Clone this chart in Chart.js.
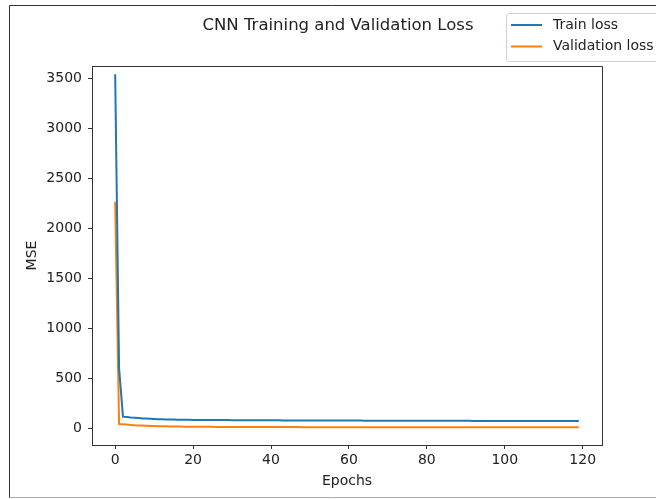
<!DOCTYPE html>
<html>
<head>
<meta charset="utf-8">
<script src="https://cdn.jsdelivr.net/npm/chart.js@4.4.1/dist/chart.umd.min.js"></script>
<style>
  html, body { margin: 0; padding: 0; background: #fff; }
  #wrap { width: 656px; height: 499px; position: relative; }
</style>
</head>
<body>
<div id="wrap"><canvas id="chart" width="656" height="499"></canvas></div>
<script>
const TITLE = "CNN Training and Validation Loss";
const SERIES_NAMES = ["Train loss", "Validation loss"];
const X_TICKS = [0, 20, 40, 60, 80, 100, 120];
const Y_TICKS = [0, 500, 1000, 1500, 2000, 2500, 3000, 3500];

const trainLoss = [
   3540, 600, 116, 112, 108, 105, 102, 99, 97, 95,
   93, 91, 90, 89, 88, 87, 86, 85.5, 85, 84.5,
   84, 83.8, 83.5, 83.2, 83, 82.8, 82.5, 82.3, 82, 81.8,
   81.6, 81.4, 81.2, 81, 80.8, 80.6, 80.4, 80.2, 80, 79.8,
   79.7, 79.5, 79.4, 79.2, 79.1, 79, 78.8, 78.7, 78.6, 78.4,
   78.3, 78.2, 78, 77.9, 77.8, 77.7, 77.5, 77.4, 77.3, 77.2,
   77.1, 77, 76.9, 76.8, 76.6, 76.5, 76.4, 76.3, 76.2, 76.1,
   76, 75.9, 75.8, 75.7, 75.6, 75.5, 75.4, 75.3, 75.3, 75.2,
   75.1, 75, 74.9, 74.8, 74.8, 74.7, 74.6, 74.5, 74.5, 74.4,
   74.3, 74.3, 74.2, 74.1, 74.1, 74, 73.9, 73.9, 73.8, 73.8,
   73.7, 73.6, 73.6, 73.5, 73.5, 73.4, 73.4, 73.3, 73.3, 73.2,
   73.2, 73.1, 73.1, 73, 73, 72.9, 72.9, 72.8, 72.8, 72.7,
];

const valLoss = [
   2266, 43, 40, 37, 34, 31, 29, 27, 25.5, 24,
   22.5, 21.5, 20.5, 19.5, 18.8, 18.2, 17.6, 17, 16.5, 16,
   15.6, 15.3, 15, 14.7, 14.5, 14.3, 14.1, 13.9, 13.7, 13.5,
   13.4, 13.2, 13.1, 13, 12.9, 12.8, 12.7, 12.6, 12.5, 12.4,
   12.3, 12.2, 12.2, 12.1, 12, 11.9, 11.9, 11.8, 11.7, 11.7,
   11.6, 11.6, 11.5, 11.4, 11.4, 11.3, 11.3, 11.2, 11.2, 11.1,
   11.1, 11, 11, 10.9, 10.9, 10.9, 10.8, 10.8, 10.7, 10.7,
   10.7, 10.6, 10.6, 10.6, 10.5, 10.5, 10.5, 10.4, 10.4, 10.4,
   10.3, 10.3, 10.3, 10.3, 10.2, 10.2, 10.2, 10.1, 10.1, 10.1,
   10.1, 10, 10, 10, 10, 9.9, 9.9, 9.9, 9.9, 9.8,
   9.8, 9.8, 9.8, 9.8, 9.7, 9.7, 9.7, 9.7, 9.7, 9.6,
   9.6, 9.6, 9.6, 9.6, 9.5, 9.5, 9.5, 9.5, 9.5, 9.5,
];

const epochs = trainLoss.map((_, i) => i);
const COLORS = ["#1f77b4", "#ff7f0e"];
const FONT = "'DejaVu Sans', sans-serif";

// frame, title, axis titles and matplotlib-style legend
const decor = {
   id: "decor",
   beforeDraw(chart) {
      const ctx = chart.ctx;
      ctx.save();
      ctx.fillStyle = "#fff";
      ctx.fillRect(0, 0, chart.width, chart.height);
      ctx.strokeStyle = "#333";
      ctx.lineWidth = 1;
      ctx.beginPath();
      ctx.moveTo(9.5, 498);
      ctx.lineTo(9.5, 5.5);
      ctx.lineTo(chart.width, 5.5);
      ctx.stroke();
      ctx.strokeStyle = "#aaa";
      ctx.beginPath();
      ctx.moveTo(9.5, 497.5);
      ctx.lineTo(chart.width, 497.5);
      ctx.stroke();
      ctx.restore();
   },
   afterDraw(chart) {
      const ctx = chart.ctx;
      const a = chart.chartArea;
      ctx.save();
      // top and right spines
      ctx.strokeStyle = "#333";
      ctx.lineWidth = 1;
      ctx.beginPath();
      ctx.moveTo(a.left, a.top + 0.5);
      ctx.lineTo(a.right + 0.5, a.top + 0.5);
      ctx.lineTo(a.right + 0.5, a.bottom);
      ctx.stroke();

      ctx.fillStyle = "#222";
      ctx.textAlign = "center";
      ctx.textBaseline = "middle";
      ctx.font = `16.5px ${FONT}`;
      ctx.fillText(TITLE, 338, 26);

      ctx.font = `14px ${FONT}`;
      ctx.fillText("Epochs", (a.left + a.right) / 2, 481);
      ctx.save();
      ctx.translate(32, (a.top + a.bottom) / 2);
      ctx.rotate(-Math.PI / 2);
      ctx.fillText("MSE", 0, 0);
      ctx.restore();

      // legend
      const bx = 506.5, by = 13.5, bw = 170, bh = 48, r = 3;
      ctx.beginPath();
      ctx.moveTo(bx + r, by);
      ctx.lineTo(bx + bw - r, by);
      ctx.arcTo(bx + bw, by, bx + bw, by + r, r);
      ctx.lineTo(bx + bw, by + bh - r);
      ctx.arcTo(bx + bw, by + bh, bx + bw - r, by + bh, r);
      ctx.lineTo(bx + r, by + bh);
      ctx.arcTo(bx, by + bh, bx, by + bh - r, r);
      ctx.lineTo(bx, by + r);
      ctx.arcTo(bx, by, bx + r, by, r);
      ctx.closePath();
      ctx.fillStyle = "rgba(255,255,255,0.8)";
      ctx.fill();
      ctx.strokeStyle = "#d0d0d0";
      ctx.stroke();

      ctx.textAlign = "left";
      ctx.fillStyle = "#222";
      SERIES_NAMES.forEach((name, i) => {
         const y = 25 + i * 21.5;
         ctx.strokeStyle = COLORS[i];
         ctx.lineWidth = 2;
         ctx.beginPath();
         ctx.moveTo(511, y);
         ctx.lineTo(542, y);
         ctx.stroke();
         ctx.fillText(name, 553, y);
      });
      ctx.restore();
   },
};

const ctx = document.getElementById("chart").getContext("2d");

new Chart(ctx, {
   type: "line",
   data: {
      datasets: [
         {
            label: SERIES_NAMES[0],
            data: epochs.map((e, i) => ({ x: e, y: trainLoss[i] })),
            borderColor: COLORS[0],
            borderWidth: 2,
            pointRadius: 0,
            tension: 0,
         },
         {
            label: SERIES_NAMES[1],
            data: epochs.map((e, i) => ({ x: e, y: valLoss[i] })),
            borderColor: COLORS[1],
            borderWidth: 2,
            pointRadius: 0,
            tension: 0,
         },
      ],
   },
   options: {
      responsive: false,
      animation: false,
      layout: {
         padding: { left: 0, top: 66, right: 54, bottom: 0 },
      },
      scales: {
         x: {
            type: "linear",
            min: -5.95,
            max: 124.95,
            afterBuildTicks: (s) => { s.ticks = X_TICKS.map((v) => ({ value: v })); },
            afterFit: (s) => { s.height = 54; },
            grid: { drawOnChartArea: false, drawTicks: true, tickLength: 4, color: "#333" },
            border: { display: true, color: "#333", width: 1 },
            ticks: {
               color: "#222",
               font: { family: FONT, size: 14 },
               padding: 3,
               maxRotation: 0,
               callback: (v) => String(v),
            },
         },
         y: {
            type: "linear",
            min: -167,
            max: 3623,
            afterBuildTicks: (s) => { s.ticks = Y_TICKS.map((v) => ({ value: v })); },
            afterFit: (s) => { s.width = 92; },
            grid: { drawOnChartArea: false, drawTicks: true, tickLength: 4, color: "#333" },
            border: { display: true, color: "#333", width: 1 },
            ticks: {
               color: "#222",
               font: { family: FONT, size: 14 },
               padding: 6,
               callback: (v) => String(v),
            },
         },
      },
      plugins: {
         legend: { display: false },
         title: { display: false },
         tooltip: { enabled: false },
      },
   },
   plugins: [decor],
});
</script>
</body>
</html>
